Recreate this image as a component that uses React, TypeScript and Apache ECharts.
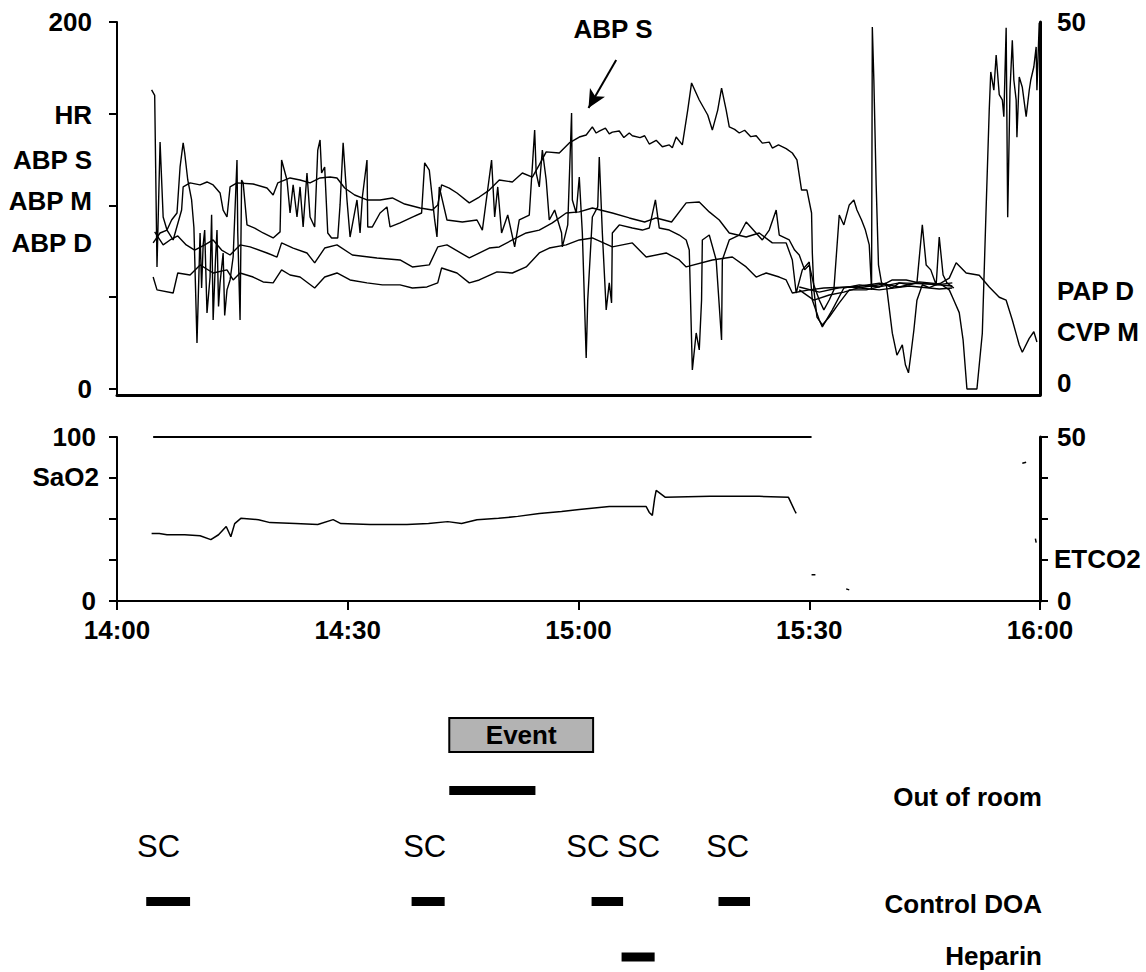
import React, { useEffect, useRef } from 'react';
import * as echarts from 'echarts';

const FONT = "'Liberation Sans', Arial, Helvetica, sans-serif";
const BOLD = `bold 26px ${FONT}`;

// time in minutes after 14:00, value
const hrData = [[4.5,163],[4.9,160],[5.2,66.5],[5.6,134.6],[6.0,93.7],[6.5,86.6],[7.1,92.1],[7.8,95.9],[8.2,121],[8.6,134.1],[8.8,128.6],[9.2,113.9],[9.7,103],[10.0,88],[10.4,25.1],[10.8,85],[11.0,55],[11.2,78.5],[11.4,86.6],[11.7,41.4],[12.1,61],[12.3,95],[12.5,37.6],[12.8,70],[13.0,86.6],[13.2,45],[13.4,57.8],[13.8,74.1],[14.0,40],[14.3,54],[14.7,59.4],[15.1,71.9],[15.6,124.8],[15.7,85],[16.0,37.6],[16.2,113.9],[16.4,112.3],[16.9,89.4],[17.9,87.7],[19.0,85],[20.3,82.3],[21.2,85.6],[21.4,124.8],[22.1,113.9],[22.5,95.9],[22.9,111.2],[23.4,93.7],[23.8,110.1],[24.2,88.3],[24.7,117.7],[25.1,93.7],[25.7,88.3],[26.1,130.2],[26.4,135.7],[26.6,117.7],[27.0,121],[27.4,85],[27.9,82.3],[28.7,82.3],[29.0,100.3],[29.4,134.1],[29.9,103],[30.3,82.8],[31.2,103],[31.6,85],[31.9,104.6],[32.5,124.8],[32.6,88.3],[33.2,88.3],[34.2,95.9],[35.1,99.2],[35.5,88.3],[36.8,90.5],[38.4,93.7],[39.6,95.9],[40.0,123.2],[40.6,119.3],[41.3,92.1],[41.6,82.8],[41.9,110.1],[42.9,92.1],[44.9,91],[46.8,92.1],[47.5,86.6],[48.7,124.8],[49.1,93.7],[49.5,110.1],[50.0,85],[50.8,94.8],[51.7,77.4],[52.3,92.1],[53.6,94.8],[54.3,141.1],[54.5,117.7],[54.9,110.1],[55.3,130.2],[55.8,113.9],[56.2,92.1],[56.9,97.5],[57.8,85],[57.9,77.4],[58.6,89.4],[59.1,150.4],[59.2,103],[59.7,95.9],[60.1,115.5],[60.5,85],[61.0,16.9],[61.2,48.5],[61.8,93.7],[62.5,99.2],[62.7,126.4],[63.1,85],[63.6,43.1],[64.0,57.8],[64.3,46.9],[64.4,85],[65.3,89.4],[67.0,87.7],[68.3,86.6],[69.2,87.7],[70.0,103],[70.5,87.7],[71.8,86.6],[73.1,83.9],[74.0,81.2],[74.4,75.7],[74.8,10.4],[75.3,30.5],[75.7,21.3],[76.0,48.5],[76.1,81.2],[77.0,83.9],[77.9,70.3],[78.6,26.7],[78.7,70.3],[79.6,81.2],[80.9,83.9],[81.8,91],[83.9,81.2],[84.8,86.6],[85.7,97.5],[86.1,83.9],[87.4,81.2],[88.1,75.7],[88.7,73],[89.4,64.9],[90.0,67.6],[90.6,56.7],[91.3,48.5],[91.9,43.1],[92.6,48.5],[93.2,54],[93.9,94.8],[94.5,89.4],[95.2,100.3],[95.8,103],[96.2,97.5],[96.8,92.1],[97.3,86.6],[97.8,78.5],[98.1,54],[98.2,197.3],[98.4,168.4],[98.7,111.2],[99.0,67.6],[99.4,57.8],[100.0,56.7],[100.8,55],[101.7,57.8],[103.0,56.7],[104.0,57.8],[104.7,89.4],[105.2,67.6],[105.8,64.9],[106.5,56.7],[106.9,82.8],[107.4,62.1],[107.9,57.8],[108.8,55]];

const abpSData = [[4.7,79.6],[5.6,85],[6.5,86.6],[7.3,81.2],[8.4,97.5],[8.6,110.1],[9.5,112.3],[10.8,111.2],[11.7,112.8],[12.5,111.2],[13.4,106.8],[13.8,97.5],[14.3,93.7],[14.7,110.1],[15.6,112.3],[17.7,111.7],[19.5,109.5],[20.3,105.7],[20.9,112.3],[22.5,115],[23.8,113.9],[25.1,112.3],[26.4,115],[27.7,115.5],[28.6,115],[29.6,109.5],[30.9,105.7],[32.5,103],[34.2,103],[35.8,104.1],[37.4,100.8],[39.4,98.6],[41.0,97.5],[41.7,100.3],[42.2,111.2],[43.2,109.5],[44.2,106.8],[45.8,101.4],[47.1,104.6],[48.4,108.4],[49.7,113.9],[51.4,112.8],[52.7,117.7],[54.0,115.5],[54.9,122.1],[55.8,129.2],[57.5,128.6],[58.8,134.1],[60.1,137.3],[61.0,138.4],[61.8,142.8],[62.3,139.5],[62.7,140.5],[63.5,142.2],[64.0,139],[64.4,140],[65.3,140.6],[65.9,137],[66.6,139.5],[67.0,138],[68.0,137],[68.6,138],[69.2,133.5],[70.1,135.5],[70.9,132],[71.8,133],[72.2,131.5],[72.7,137.3],[73.5,133],[74.2,152],[74.7,166.8],[75.7,157.5],[76.8,149.3],[77.4,141.1],[78.1,152],[78.6,164],[79.2,152],[79.6,142.8],[80.3,141.5],[80.9,139.5],[81.6,141],[82.4,137.5],[83.1,138],[83.9,134],[84.8,134.5],[85.2,131.3],[86.0,133],[87.0,131],[87.8,128.6],[88.4,124.8],[89.0,108.4],[89.7,108.4],[90.3,95.9],[90.4,74.1],[90.6,54],[91.0,39.2],[91.7,34.9],[92.6,39.2],[93.9,46.9],[95.2,54],[97.4,54],[99.1,55.6],[100.8,59.4],[102.6,59.4],[104.3,57.8],[106.5,56.7],[108.6,57.8]];

const abpMData = [[4.9,85.6],[6.0,78.5],[6.9,81.2],[7.9,83.4],[9.0,78.5],[10.1,75.7],[11.4,78.5],[12.5,81.2],[13.6,75.7],[14.7,73],[16.0,78.5],[17.3,77.4],[19.5,74.1],[20.8,71.9],[21.4,79.6],[22.9,76.8],[24.7,74.1],[25.7,68.7],[27.0,76.8],[28.6,78.5],[30.6,73],[33.8,71.4],[36.8,70.3],[38.4,66.5],[40.6,67.6],[41.7,77.4],[42.9,78.5],[45.8,71.4],[48.4,76.8],[49.7,77.4],[51.4,81.2],[53.2,85],[54.9,86.6],[56.6,90.5],[58.4,95.9],[60.1,96.5],[61.8,98.6],[64.4,95.9],[66.6,93.2],[68.6,91],[70.1,93.2],[72.1,91],[74.0,101.4],[75.7,101.9],[77.0,96.5],[78.3,92.1],[79.6,85],[81.8,82.8],[83.5,85],[85.2,79.6],[87.0,79.6],[87.8,70.3],[88.3,52.3],[89.1,64.9],[90.0,69.2],[90.4,48.5],[91.3,37.6],[91.7,33.8],[93.0,43.1],[94.5,55],[96.5,56.7],[99.1,55.6],[101.7,57.8],[105.6,57.2],[108.6,56.1]];

const abpDData = [[4.7,61],[5.2,54],[7.3,52.3],[7.9,63.2],[9.5,62.1],[10.8,67.6],[12.5,63.2],[14.3,64.9],[15.1,59.4],[16.0,63.2],[17.7,61],[19.0,58.3],[20.3,57.8],[21.4,64.9],[22.5,62.1],[23.8,61],[25.7,55],[27.0,61],[28.6,63.2],[30.3,59.4],[32.5,57.8],[34.5,56.7],[36.8,56.7],[38.4,55],[40.3,55.6],[41.7,57.8],[42.2,65.9],[44.2,63.2],[45.8,57.8],[47.1,59.4],[49.4,63.8],[51.4,63.2],[53.2,66.5],[54.9,74.1],[56.2,76.8],[58.4,78.5],[60.1,81.2],[61.8,82.3],[64.4,77.4],[67.0,79.6],[68.8,71.9],[71.4,74.1],[73.1,70.3],[74.0,66.5],[77.4,70.3],[80.0,71.9],[81.8,66.5],[83.1,61],[84.4,63.2],[86.1,61],[87.0,59.4],[87.8,52.3],[90.0,54],[91.9,55],[95.2,55.6],[99.1,54],[103.0,56.1],[106.9,54.5],[108.6,55]];

const papDData = [[88.7,13.5],[90.6,12.1],[92.6,12.8],[94.5,13.2],[96.5,13.8],[99.1,14.2],[100.0,14.4],[100.8,7.6],[101.4,4.6],[102.1,6.0],[102.5,3.3],[102.9,2.2],[103.2,4.6],[103.6,8.0],[104.0,12.1],[104.7,14.2],[105.6,13.8],[106.9,14.4],[108.2,13.5],[108.8,12.1],[109.5,10.4],[110.0,6.7],[110.5,0],[111.8,0],[112.5,7.6],[113.0,24.8],[113.4,38.0],[113.6,43.2],[114.0,40.7],[114.3,45.5],[114.7,40.1],[115.1,39.4],[115.3,37.1],[115.6,49.2],[115.8,23.4],[116.1,40.7],[116.4,47.5],[116.6,42.1],[116.9,39.4],[117.0,34.3],[117.3,42.5],[117.7,41.1],[118.2,37.1],[118.6,40.7],[118.8,42.1],[119.2,43.9],[119.5,46.6],[119.6,40.7],[119.9,49.9]];

const cvpMData = [[88.7,13.9],[91.3,13.2],[93.9,13.8],[96.5,14.0],[99.1,14.4],[101.7,13.9],[104.3,14.6],[106.9,14.3],[108.2,15.1],[109.1,17.2],[110.4,15.8],[112.1,15.5],[113.4,13.9],[114.7,12.5],[115.6,12.1],[116.4,9.4],[117.3,6.0],[117.7,5.0],[118.6,6.9],[119.2,7.8],[119.6,6.4]];

const sao2Data = [[4.7,100],[90.3,100]];

const etco2Data = [[4.5,20.6],[5.5,20.6],[6.5,20.2],[8.8,20.2],[10.8,19.9],[12.2,18.7],[13.2,20.2],[14.2,22.7],[14.8,19.6],[15.3,23.6],[16.1,25.2],[18.4,24.8],[19.9,23.9],[23.2,23.6],[26.1,23.3],[28.1,24.8],[29.1,23.6],[32.9,23.3],[37.7,23.3],[40.5,23.6],[43.0,24.2],[44.8,23.6],[46.8,24.8],[49.6,25.2],[52.1,25.8],[54.9,26.7],[57.8,27.3],[60.1,27.9],[64.0,28.8],[68.8,28.8],[69.2,27.0],[69.6,26.1],[69.9,31.3],[70.1,33.7],[71.3,31.6],[77.1,31.9],[83.5,31.9],[87.3,31.6],[88.1,27.6],[88.3,26.7],[89.3,'-'],[90.3,8.0],[90.8,8.0],[93,'-'],[94.8,3.7],[95.2,3.4],[100,'-'],[117.7,42.0],[118.2,42.3],[119,'-'],[119.4,19.0],[119.5,17.8]];

const topLeftTicks = [0, 50, 100, 150, 200];
const topLeftLabels = [0, 200];
const topRightLabels = [0, 50];
const eventSpans = [[43.2, 61.9]];
const outOfRoomSpans = [[43.2, 54.4]];
const controlDoaSpans = [[3.8, 9.5], [38.3, 42.6], [61.7, 65.8], [78.2, 82.3]];
const heparinSpans = [[65.6, 69.9]];
const scTimes = [5.4, 40.0, 61.2, 67.8, 79.4];
const rowNames = ['Event', 'Out of room', 'SC', 'Control DOA', 'Heparin'];
const labeledRows = [1, 3, 4];

const fmtTime = (v: number) => {
  const h = 14 + Math.floor(v / 60);
  const m = Math.round(v % 60);
  return `${h}:${m < 10 ? '0' : ''}${m}`;
};
const onlyEnds = (lo: number, hi: number) => (v: number) => (v === lo || v === hi ? String(v) : '');

const txt = (text: string, x: number, y: number, align: string, font = BOLD) => ({
  type: 'text',
  x,
  y,
  silent: true,
  style: { text, font, fill: '#000', align, verticalAlign: 'middle' },
});

const lineSeries = (name: string, data: any[], xi: number, yi: number, width = 1.4) => ({
  name,
  type: 'line',
  xAxisIndex: xi,
  yAxisIndex: yi,
  data,
  showSymbol: false,
  symbol: 'none',
  connectNulls: false,
  lineStyle: { color: '#000', width },
  itemStyle: { color: '#000' },
  silent: true,
});

const labelStyle = { color: '#000', fontFamily: FONT, fontWeight: 'bold', fontSize: 26, lineHeight: 22 };

export default function App() {
  const ref = useRef<HTMLDivElement>(null);
  useEffect(() => {
    document.body.style.margin = '0';
    const chart = echarts.init(ref.current as HTMLDivElement, null, { renderer: 'svg' });
    const barData = [
      ...outOfRoomSpans.map((d) => [d[0], d[1], 1]),
      ...controlDoaSpans.map((d) => [d[0], d[1], 3]),
      ...heparinSpans.map((d) => [d[0], d[1], 4]),
    ];
    const option: any = {
      animation: false,
      backgroundColor: '#fff',
      grid: [
        { id: 'g0', left: 117, right: 106, top: 22, height: 373 },
        { id: 'g1', left: 117, right: 106, top: 437, height: 164 },
        { id: 'g2', left: 117, right: 106, top: 679.5, height: 277.5 },
      ],
      xAxis: [
        {
          id: 'x0', gridIndex: 0, type: 'value', min: 0, max: 120,
          axisLine: { onZero: false, lineStyle: { color: '#000', width: 3 } },
          axisTick: { show: false }, axisLabel: { show: false }, splitLine: { show: false },
        },
        {
          id: 'x1', gridIndex: 1, type: 'value', min: 0, max: 120, interval: 30,
          axisLine: { onZero: false, lineStyle: { color: '#000', width: 2 } },
          axisTick: { show: true, length: 9, lineStyle: { color: '#000', width: 2 } },
          axisLabel: { ...labelStyle, margin: 18, formatter: fmtTime },
          splitLine: { show: false },
        },
        { id: 'x2', gridIndex: 2, type: 'value', min: 0, max: 120, show: false },
      ],
      yAxis: [
        {
          id: 'y0', gridIndex: 0, type: 'value', min: -3.3, max: 200,
          axisLine: { show: true, lineStyle: { color: '#000', width: 2 } },
          axisTick: { show: true, length: 8, customValues: topLeftTicks, lineStyle: { color: '#000', width: 2 } },
          axisLabel: { ...labelStyle, margin: 25, customValues: topLeftLabels, formatter: onlyEnds(0, 200) },
          splitLine: { show: false },
        },
        {
          id: 'y1', gridIndex: 0, type: 'value', min: -0.82, max: 50, position: 'right',
          axisLine: { show: true, lineStyle: { color: '#000', width: 3 } },
          axisTick: { show: false },
          axisLabel: {
            ...labelStyle, margin: 17, customValues: topRightLabels,
            formatter: (v: number) => (v === 0 ? '{lo|0}' : v === 50 ? '{hi|50}' : ''),
            rich: {
              lo: { ...labelStyle, padding: [0, 0, 12, 0] },
              hi: { ...labelStyle, padding: [0, 0, 0, 0] },
            },
          },
          splitLine: { show: false },
        },
        {
          id: 'y2', gridIndex: 1, type: 'value', min: 0, max: 100, interval: 25,
          axisLine: { show: true, lineStyle: { color: '#000', width: 2 } },
          axisTick: { show: true, length: 8, lineStyle: { color: '#000', width: 2 } },
          axisLabel: { ...labelStyle, margin: 21, formatter: onlyEnds(0, 100) },
          splitLine: { show: false },
        },
        {
          id: 'y3', gridIndex: 1, type: 'value', min: 0, max: 50, interval: 12.5, position: 'right',
          axisLine: { show: true, lineStyle: { color: '#000', width: 3 } },
          axisTick: { show: true, length: 8, lineStyle: { color: '#000', width: 2 } },
          axisLabel: { ...labelStyle, margin: 17, formatter: onlyEnds(0, 50) },
          splitLine: { show: false },
        },
        { id: 'y4', gridIndex: 2, type: 'value', min: -1, max: 4, inverse: true, show: false },
      ],
      series: [
        lineSeries('HR', hrData, 0, 0, 1.4),
        {
          ...lineSeries('ABP S', abpSData, 0, 0),
          markLine: {
            silent: true,
            symbol: ['none', 'arrow'],
            symbolSize: [13, 18],
            lineStyle: { color: '#000', width: 2, type: 'solid' },
            label: { show: false },
            data: [[{ coord: [64.9, 179.3] }, { coord: [61.3, 153.1] }]],
          },
        },
        lineSeries('ABP M', abpMData, 0, 0),
        lineSeries('ABP D', abpDData, 0, 0),
        lineSeries('PAP D', papDData, 0, 1),
        lineSeries('CVP M', cvpMData, 0, 1),
        lineSeries('SaO2', sao2Data, 1, 2, 2),
        lineSeries('ETCO2', etco2Data, 1, 3, 1.5),
        {
          type: 'custom', name: 'Event', xAxisIndex: 2, yAxisIndex: 4, silent: true,
          data: eventSpans.map((d) => [d[0], d[1], 0]),
          encode: { x: [0, 1], y: 2 },
          renderItem: (params: any, api: any) => {
            const a = api.coord([api.value(0), api.value(2)]);
            const b = api.coord([api.value(1), api.value(2)]);
            return {
              type: 'group',
              children: [
                { type: 'rect', shape: { x: a[0], y: a[1] - 17, width: b[0] - a[0], height: 34 }, style: { fill: '#b3b3b3', stroke: '#000', lineWidth: 2 } },
                { type: 'text', x: (a[0] + b[0]) / 2, y: a[1], style: { text: rowNames[0], font: BOLD, fill: '#000', align: 'center', verticalAlign: 'middle' } },
              ],
            };
          },
        },
        {
          type: 'custom', name: 'Bars', xAxisIndex: 2, yAxisIndex: 4, silent: true,
          data: barData,
          encode: { x: [0, 1], y: 2 },
          renderItem: (params: any, api: any) => {
            const a = api.coord([api.value(0), api.value(2)]);
            const b = api.coord([api.value(1), api.value(2)]);
            return { type: 'rect', shape: { x: a[0], y: a[1] - 4.5, width: b[0] - a[0], height: 9 }, style: { fill: '#000' } };
          },
        },
        {
          type: 'custom', name: 'SC', xAxisIndex: 2, yAxisIndex: 4, silent: true,
          data: scTimes.map((t) => [t, 2]),
          encode: { x: 0, y: 1 },
          renderItem: (params: any, api: any) => {
            const p = api.coord([api.value(0), api.value(1)]);
            return { type: 'text', x: p[0], y: p[1], style: { text: rowNames[2], font: `31px ${FONT}`, fill: '#000', align: 'center', verticalAlign: 'middle' } };
          },
        },
        {
          type: 'custom', name: 'RowLabels', xAxisIndex: 2, yAxisIndex: 4, silent: true,
          data: labeledRows.map((r) => [120, r]),
          encode: { x: 0, y: 1 },
          renderItem: (params: any, api: any) => {
            const row = api.value(1);
            const p = api.coord([api.value(0), row]);
            const dy = row === 4 ? -1 : row === 1 ? 6 : 2;
            return { type: 'text', x: p[0] + 2, y: p[1] + dy, style: { text: rowNames[row], font: BOLD, fill: '#000', align: 'right', verticalAlign: 'middle' } };
          },
        },
      ],
      graphic: [
        txt('HR', 92, 115, 'right'),
        txt('ABP S', 92, 160, 'right'),
        txt('ABP M', 92, 201, 'right'),
        txt('ABP D', 92, 243, 'right'),
        txt('PAP D', 1057, 291, 'left'),
        txt('CVP M', 1057, 332, 'left'),
        txt('SaO2', 99, 477, 'right'),
        txt('ETCO2', 1054, 559, 'left'),
        txt('ABP S', 613, 29, 'center'),
      ],
    };
    chart.setOption(option);
    return () => chart.dispose();
  }, []);
  return <div ref={ref} style={{ position: 'fixed', left: 0, top: 0, width: 1146, height: 972 }} />;
}
